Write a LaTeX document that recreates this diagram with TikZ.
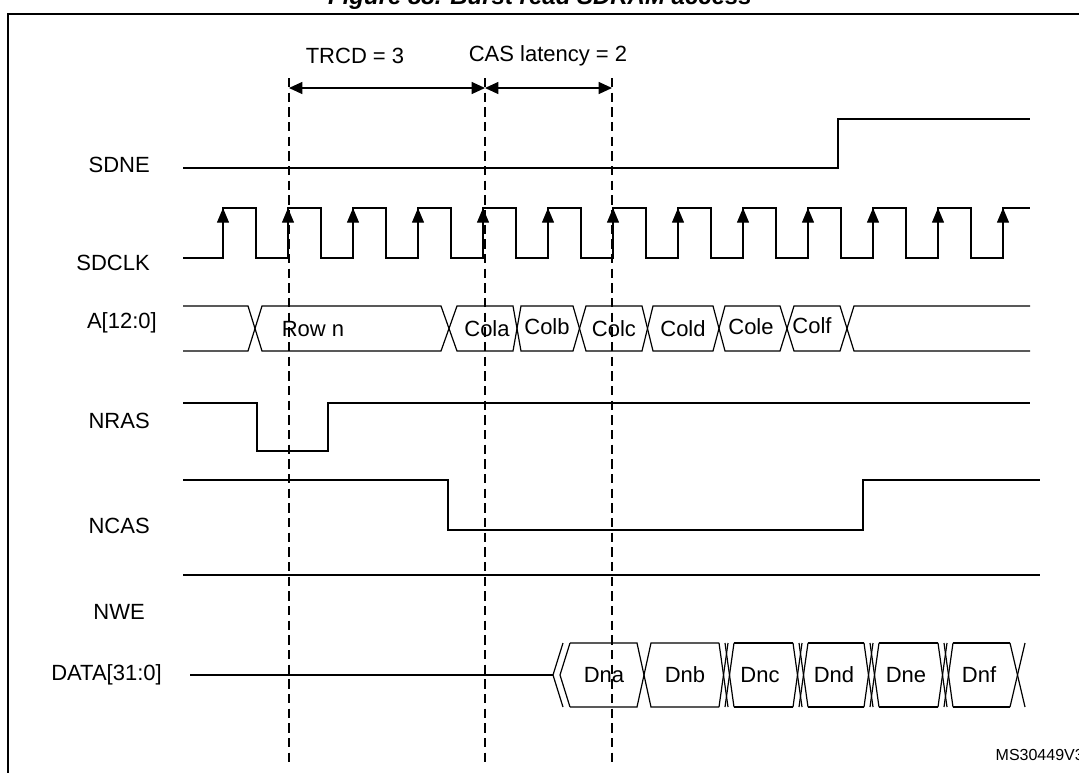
\documentclass[tikz,border=0pt]{standalone}
\usepackage{fontspec}
\setmainfont{Liberation Sans}
\usetikzlibrary{arrows.meta}
\begin{document}
\begin{tikzpicture}[x=0.75pt,y=-0.75pt,
  sig/.style={line width=0.9pt},
  vdash/.style={line width=0.8pt,dash pattern=on 7pt off 4pt},
  lbl/.style={font=\fontsize{16.5}{19}\selectfont,inner sep=0pt},
  dim/.style={line width=0.9pt,{Triangle[length=10pt,width=9pt]}-{Triangle[length=10pt,width=9pt]}},
  clkarr/.style={-{Triangle[length=11pt,width=9pt]},line width=0.9pt}]
\useasboundingbox (0,0) rectangle (1079,772);
\clip (0,0) rectangle (1079,772);
% title (cut off at top)
\node[font=\fontsize{18}{20}\selectfont\bfseries\itshape,anchor=base,inner sep=0pt] (title) at (540,4) {Figure 88. Burst read SDRAM access};
% frame
\draw[line width=1.5pt] (8,800) -- (8,14) -- (1090,14);
% labels
\node[lbl,anchor=east] (lsdne) at (150,165) {SDNE};
\node[lbl,anchor=east] (lclk) at (150,263) {SDCLK};
\node[lbl,anchor=east] (la) at (157,323) {A[12:0]};
\node[lbl,anchor=east] (lnras) at (150,421) {NRAS};
\node[lbl,anchor=east] (lncas) at (150,526) {NCAS};
\node[lbl,anchor=east] (lnwe) at (145,612) {NWE};
\node[lbl,anchor=east] (ldata) at (162,675) {DATA[31:0]};
\node[lbl,anchor=east,font=\fontsize{12}{14}\selectfont] (ms) at (1084,755) {MS30449V3};
% timing annotations
\node[lbl] (trcd) at (355,56) {TRCD = 3};
\node[lbl] (cas) at (548,56) {CAS latency = 2};
\coordinate (d1) at (289,88); \coordinate (d2) at (485,88); \coordinate (d3) at (612,88);
\draw[dim] (d1) -- (d2);
\draw[dim] (d2) -- (d3);
\foreach \x in {289,485,612} \draw[vdash] (\x,78) -- (\x,765);
% SDNE
\draw[sig] (183,168) -- (838,168) -- (838,119) -- (1030,119);
% SDCLK
\draw[sig] (183,258) -- (223,258)
  \foreach \i in {0,...,11} { -- ({223+65*\i},208) -- ({256+65*\i},208) -- ({256+65*\i},258) -- ({288+65*\i},258) }
  -- (1003,258) -- (1003,208) -- (1030,208);
\foreach \i in {0,...,12} \draw[clkarr] ({223+65*\i},240) -- ({223+65*\i},208);
% A bus
\def\at{306}\def\ab{351}
\draw[sig] (183,\at) -- (248,\at) -- (262,\ab) -- (441,\ab) -- (457,\at) -- (513,\at) -- (521,\ab) -- (573,\ab) -- (586,\at) -- (642,\at) -- (653,\ab) -- (713,\ab) -- (725,\at) -- (780,\at) -- (794,\ab) -- (840,\ab) -- (854,\at) -- (1030,\at);
\draw[sig] (183,\ab) -- (248,\ab) -- (262,\at) -- (441,\at) -- (457,\ab) -- (513,\ab) -- (521,\at) -- (573,\at) -- (586,\ab) -- (642,\ab) -- (653,\at) -- (713,\at) -- (725,\ab) -- (780,\ab) -- (794,\at) -- (840,\at) -- (854,\ab) -- (1030,\ab);
\node[lbl] (rown) at (313,329) {Row n};
\node[lbl] (cola) at (487,329) {Cola};
\node[lbl] (colb) at (547,327) {Colb};
\node[lbl] (colc) at (614,329) {Colc};
\node[lbl] (cold) at (683,329) {Cold};
\node[lbl] (cole) at (751,327) {Cole};
\node[lbl] (colf) at (812,326) {Colf};
% NRAS
\draw[sig] (183,403) -- (257,403) -- (257,451) -- (328,451) -- (328,403) -- (1030,403);
% NCAS
\draw[sig] (183,480) -- (448,480) -- (448,530) -- (863,530) -- (863,480) -- (1040,480);
% NWE
\draw[sig] (183,575) -- (1040,575);
% DATA
\def\dt{643}\def\db{707}\def\dm{675}
\draw[sig] (190,\dm) -- (553,\dm);
\draw[sig] (563,\dt) -- (553,\dm) -- (563,\db);
\draw[sig] (570,\dt) -- (560,\dm) -- (570,\db);
\draw[sig] (570,\dt) -- (637,\dt) -- (651,\db) -- (719,\db);
\draw[sig] (570,\db) -- (637,\db) -- (651,\dt) -- (719,\dt);
\foreach \a/\b in {719/793,793/864,864/938,938/1010}{
  \draw[sig] (\a,\dt) -- (\a+9,\db);
  \draw[sig] (\a,\db) -- (\a+9,\dt);
  \draw[sig] (\a+6,\dt) -- (\a+15,\db);
  \draw[sig] (\a+6,\db) -- (\a+15,\dt);
  \draw[sig] (\a+15,\dt) -- (\b,\dt);
  \draw[sig] (\a+15,\db) -- (\b,\db);
}
\draw[sig] (1010,\dt) -- (1025,\db);
\draw[sig] (1010,\db) -- (1025,\dt);
\node[lbl] (dna) at (604,675) {Dna};
\node[lbl] (dnb) at (685,675) {Dnb};
\node[lbl] (dnc) at (760,675) {Dnc};
\node[lbl] (dnd) at (834,675) {Dnd};
\node[lbl] (dne) at (906,675) {Dne};
\node[lbl] (dnf) at (979,675) {Dnf};
\end{tikzpicture}
\end{document}
